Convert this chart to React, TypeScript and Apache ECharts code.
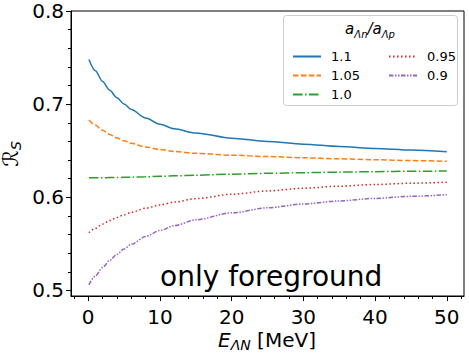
import React, { useEffect, useRef } from "react";
import * as echarts from "echarts";

const energies = [0.1, 1, 2, 3, 4, 5, 6, 8, 10, 12, 15, 20, 25, 30, 35, 40, 45, 50];
const ratio110 = [0.748, 0.7359, 0.7244, 0.7149, 0.7069, 0.7001, 0.6943, 0.6851, 0.6785, 0.6735, 0.669, 0.6635, 0.66, 0.657, 0.6545, 0.6525, 0.6507, 0.649];
const ratio105 = [0.683, 0.6775, 0.672, 0.6675, 0.6637, 0.6606, 0.658, 0.654, 0.6512, 0.6492, 0.6472, 0.6452, 0.6437, 0.6424, 0.6413, 0.6403, 0.6394, 0.6386];
const ratio100 = [0.621, 0.621, 0.621, 0.6211, 0.6212, 0.6214, 0.6216, 0.622, 0.6225, 0.623, 0.6237, 0.6248, 0.6257, 0.6264, 0.627, 0.6275, 0.6279, 0.6282];
const ratio095 = [0.562, 0.5667, 0.5712, 0.575, 0.5783, 0.5812, 0.5838, 0.5882, 0.5918, 0.5948, 0.5985, 0.6032, 0.6068, 0.6097, 0.6119, 0.6137, 0.6151, 0.6162];
const ratio090 = [0.506, 0.5155, 0.5245, 0.5322, 0.5388, 0.5445, 0.5495, 0.5578, 0.5643, 0.5696, 0.5758, 0.5833, 0.5887, 0.5928, 0.5961, 0.5988, 0.601, 0.6028];

const seriesNames = ["1.1", "1.05", "1.0", "0.95", "0.9"];
const seriesValues = [ratio110, ratio105, ratio100, ratio095, ratio090];
const seriesColors = ["#1f77b4", "#ff7f0e", "#2ca02c", "#d62728", "#9467bd"];
const seriesDashes: any[] = ["solid", [5.5, 2.4], [9.6, 2.4, 1.5, 2.4], [1.5, 2.5], [4.5, 1.5, 1.5, 1.5, 1.5, 1.5]];

const xMajorTicks = [0, 10, 20, 30, 40, 50];
const xMinorTicks = [-2, 0, 2, 4, 6, 8, 10, 12, 14, 16, 18, 20, 22, 24, 26, 28, 30, 32, 34, 36, 38, 40, 42, 44, 46, 48, 50, 52];
const yMajorTicks = [0.5, 0.6, 0.7, 0.8];
const yMinorTicks = [0.5, 0.52, 0.54, 0.56, 0.58, 0.6, 0.62, 0.64, 0.66, 0.68, 0.7, 0.72, 0.74, 0.76, 0.78, 0.8];

const FONT = "DejaVu Sans";

export default function App() {
  const ref = useRef<HTMLDivElement>(null);
  useEffect(() => {
    if (!ref.current) return;
    const chart = echarts.init(ref.current, null, { renderer: "svg" });
    const series = seriesNames.map((name, i) => ({
      name,
      type: "line",
      xAxisIndex: 0,
      yAxisIndex: 0,
      data: energies.map((e, j) => [e, seriesValues[i][j]]),
      symbol: "none",
      smooth: 0.3,
      smoothMonotone: "x",
      lineStyle: { color: seriesColors[i], width: 1.5, type: seriesDashes[i] },
      itemStyle: { color: seriesColors[i] },
    }));
    const legendCommon = {
      orient: "vertical",
      top: 45,
      itemWidth: 28,
      itemHeight: 14,
      itemGap: 6,
      itemStyle: { opacity: 0 },
      textStyle: { fontFamily: FONT, fontSize: 13, color: "#000", padding: [0, 0, 0, 5] },
      selectedMode: false,
    };
    chart.setOption({
      animation: false,
      backgroundColor: "#fff",
      grid: { left: 71, top: 8, right: 5, bottom: 58, show: true, borderColor: "#000", borderWidth: 1 },
      xAxis: [
        {
          type: "value", min: -2.4, max: 52.4, position: "bottom",
          axisLine: { show: true, onZero: false, lineStyle: { color: "#000", width: 1 } },
          splitLine: { show: false },
          axisTick: { show: true, length: 3, customValues: xMinorTicks, lineStyle: { color: "#000" } },
          axisLabel: { show: false },
        },
        {
          type: "value", min: -2.4, max: 52.4, position: "bottom",
          axisLine: { show: false, onZero: false },
          splitLine: { show: false },
          axisTick: { show: true, length: 5, customValues: xMajorTicks, lineStyle: { color: "#000" } },
          axisLabel: { customValues: xMajorTicks, fontFamily: FONT, fontSize: 20, lineHeight: 16, color: "#000", margin: 13 },
        },
      ],
      yAxis: [
        {
          type: "value", min: 0.494, max: 0.8, position: "left",
          axisLine: { show: true, onZero: false, lineStyle: { color: "#000", width: 1 } },
          splitLine: { show: false },
          axisTick: { show: true, length: 3, customValues: yMinorTicks, lineStyle: { color: "#000" } },
          axisLabel: { show: false },
        },
        {
          type: "value", min: 0.494, max: 0.8, position: "left", offset: 0,
          axisLine: { show: false, onZero: false },
          splitLine: { show: false },
          axisTick: { show: true, length: 5, customValues: yMajorTicks, lineStyle: { color: "#000" } },
          axisLabel: {
            customValues: yMajorTicks, fontFamily: FONT, fontSize: 20, lineHeight: 16, color: "#000", margin: 7,
            padding: [6, 0, 0, 0],
            formatter: (v: number) => v.toFixed(1),
          },
        },
      ],
      legend: [
        { ...legendCommon, left: 287, data: seriesNames.slice(0, 3) },
        { ...legendCommon, left: 383, data: seriesNames.slice(3) },
      ],
      graphic: [
        {
          type: "rect", left: 283, top: 15, z: 0,
          shape: { width: 174, height: 90, r: 3 },
          style: { fill: "rgba(255,255,255,0.8)", stroke: "#cccccc", lineWidth: 1 },
        },
        {
          type: "text", x: 370, y: 31, z: 10,
          style: {
            text: "{a|a}{s|Λn}{a|/a}{s|Λp}",
            align: "center", verticalAlign: "middle",
            rich: {
              a: { fontFamily: FONT, fontStyle: "italic", fontSize: 15, verticalAlign: "top", lineHeight: 20, fill: "#000" },
              s: { fontFamily: FONT, fontStyle: "italic", fontSize: 10, verticalAlign: "top", lineHeight: 20, padding: [8, 0, 0, 0], fill: "#000" },
            },
          },
        },
        {
          type: "text", x: 12, y: 154, rotation: Math.PI / 2,
          style: {
            text: "{r|ℛ}{s|S}",
            align: "center", verticalAlign: "middle",
            rich: {
              r: { fontFamily: FONT, fontSize: 21, verticalAlign: "top", lineHeight: 24, fill: "#000" },
              s: { fontFamily: FONT, fontStyle: "italic", fontSize: 14, verticalAlign: "top", lineHeight: 24, padding: [9, 0, 0, 0], fill: "#000" },
            },
          },
        },
        {
          type: "text", x: 267, y: 341,
          style: {
            text: "{e|E}{s|ΛN}{n| [MeV]}",
            align: "center", verticalAlign: "middle",
            rich: {
              e: { fontFamily: FONT, fontStyle: "italic", fontSize: 20, verticalAlign: "top", lineHeight: 22, fill: "#000" },
              s: { fontFamily: FONT, fontStyle: "italic", fontSize: 14, verticalAlign: "top", lineHeight: 22, padding: [8, 0, 0, 0], fill: "#000" },
              n: { fontFamily: FONT, fontSize: 20, verticalAlign: "top", lineHeight: 22, fill: "#000" },
            },
          },
        },
        {
          type: "text", x: 160, y: 262,
          style: { text: "only foreground", fontFamily: FONT, fontSize: 28, fill: "#000", align: "left", verticalAlign: "alphabetic" },
        },
      ],
      series,
    });
    return () => chart.dispose();
  }, []);
  return <div ref={ref} style={{ width: 469, height: 354, position: "absolute", left: 0, top: 0 }} />;
}
